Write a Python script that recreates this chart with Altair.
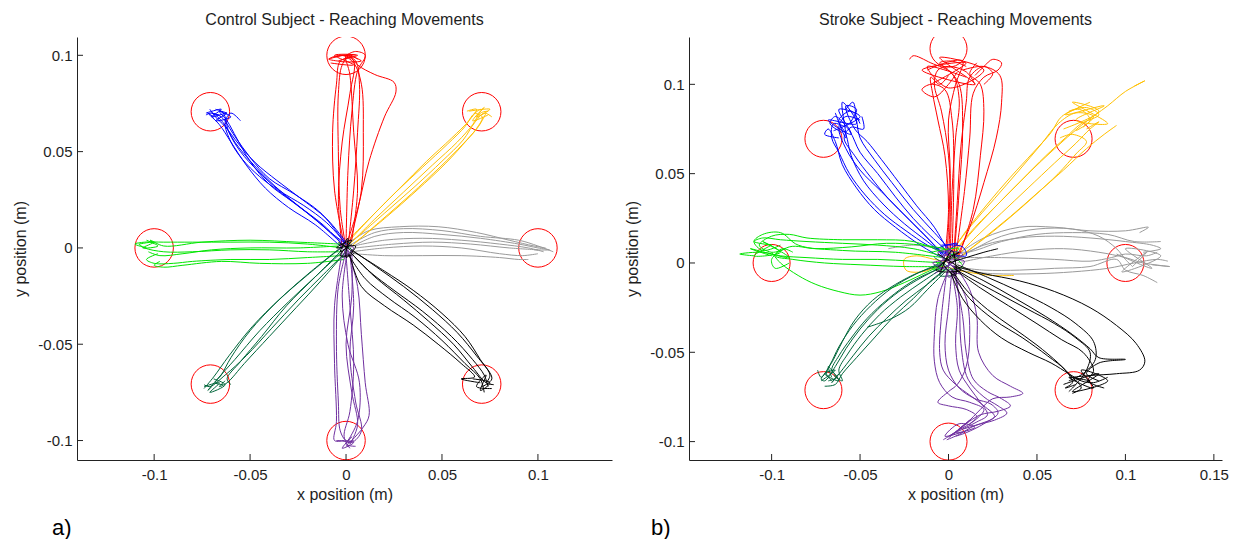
import altair as alt
import pandas as pd

# ---------------- direction groups & colours ----------------
DIRS = ["right", "upright", "up", "upleft", "left", "downleft", "down", "downright"]
DIR_COLORS = ["#9a9a9a", "#ffc000", "#ff0000", "#0000ff", "#00e600", "#00663a", "#7030a0", "#000000"]

# ---------------- panel texts ----------------
TITLES = ["Control Subject - Reaching Movements", "Stroke Subject - Reaching Movements"]
TAGS = ["a)", "b)"]
X_TITLE = "x position (m)"
Y_TITLE = "y position (m)"

# ---------------- targets ----------------
CTRL_TARGETS_X = [0.0, 0.0707, 0.1, 0.0707, 0.0, -0.0707, -0.1, -0.0707]
CTRL_TARGETS_Y = [0.1, 0.0707, 0.0, -0.0707, -0.1, -0.0707, 0.0, 0.0707]
STRK_TARGETS_X = [0.0, 0.0707, 0.1, 0.0707, 0.0, -0.0707, -0.1, -0.0707]
STRK_TARGETS_Y = [0.12, 0.0695, 0.0, -0.0712, -0.1, -0.0712, 0.0, 0.0695]

# ---------------- axis ticks ----------------
CTRL_XTICKS = [-0.1, -0.05, 0, 0.05, 0.1]
CTRL_YTICKS = [-0.1, -0.05, 0, 0.05, 0.1]
STRK_XTICKS = [-0.1, -0.05, 0, 0.05, 0.1, 0.15]
STRK_YTICKS = [-0.1, -0.05, 0, 0.05, 0.1]

# ---------------- control subject trajectories (m) ----------------
CTRL_UP = [
    [(0, 0), (-0.003, 0.02), (-0.004, 0.05), (-0.004, 0.08), (-0.002, 0.095), (0.002, 0.1), (0.006, 0.098)],
    [(0.001, 0.0), (0.004, 0.03), (0.006, 0.06), (0.007, 0.085), (0.005, 0.097), (0.0, 0.1), (-0.006, 0.099)],
    [(-0.001, 0.002), (-0.006, 0.03), (-0.007, 0.06), (-0.005, 0.085), (-0.003, 0.097), (0.003, 0.099)],
    [(0.002, 0.003), (0.008, 0.03), (0.009, 0.06), (0.008, 0.085), (0.004, 0.096), (-0.002, 0.1), (-0.009, 0.098), (-0.004, 0.097)],
    [(0.003, 0.004), (0.006, 0.03), (0.004, 0.06), (0.002, 0.09), (0.0, 0.1), (0.005, 0.1)],
    [(0, 0.001), (0.001, 0.04), (0.003, 0.07), (0.006, 0.092), (0.01, 0.1), (0.005, 0.102), (0, 0.1)],
    [(0.001, 0.004), (0.006, 0.02), (0.012, 0.045), (0.02, 0.068), (0.026, 0.081), (0.025, 0.086), (0.015, 0.09), (0.006, 0.095), (0.002, 0.1)],
    [(-0.002, 0.0), (-0.004, 0.025), (-0.002, 0.055), (0.002, 0.08), (0.004, 0.097), (-0.001, 0.1)],
    [(-0.009, 0.098), (0.0, 0.1), (0.008, 0.097), (-0.004, 0.097), (0.006, 0.1), (-0.006, 0.1), (0.004, 0.095), (-0.008, 0.096)],
]
CTRL_UPLEFT = [
    [(0, 0), (-0.012, 0.012), (-0.025, 0.022), (-0.037, 0.032), (-0.048, 0.043), (-0.058, 0.055), (-0.064, 0.065), (-0.07, 0.07), (-0.073, 0.069)],
    [(-0.002, 0.002), (-0.015, 0.014), (-0.028, 0.024), (-0.04, 0.033), (-0.05, 0.045), (-0.057, 0.057), (-0.062, 0.066), (-0.066, 0.071), (-0.062, 0.07)],
    [(0.001, 0.001), (-0.01, 0.013), (-0.022, 0.022), (-0.035, 0.03), (-0.046, 0.04), (-0.055, 0.05), (-0.061, 0.06), (-0.064, 0.07), (-0.068, 0.072)],
    [(-0.001, 0.003), (-0.013, 0.018), (-0.027, 0.028), (-0.04, 0.036), (-0.05, 0.047), (-0.058, 0.058), (-0.065, 0.068), (-0.07, 0.07), (-0.066, 0.069)],
    [(0.0, 0.002), (-0.008, 0.008), (-0.02, 0.018), (-0.033, 0.028), (-0.045, 0.037), (-0.054, 0.046), (-0.06, 0.055), (-0.063, 0.065), (-0.06, 0.07), (-0.055, 0.066)],
    [(-0.002, 0.0), (-0.016, 0.012), (-0.03, 0.021), (-0.042, 0.031), (-0.052, 0.043), (-0.06, 0.055), (-0.066, 0.064), (-0.072, 0.07), (-0.069, 0.068)],
    [(0, 0.003), (-0.01, 0.015), (-0.024, 0.026), (-0.036, 0.035), (-0.047, 0.044), (-0.056, 0.054), (-0.063, 0.063), (-0.068, 0.068), (-0.071, 0.072)],
    [(-0.073, 0.07), (-0.065, 0.072), (-0.07, 0.068), (-0.062, 0.07), (-0.068, 0.066), (-0.06, 0.068), (-0.066, 0.071)],
]
CTRL_UPRIGHT = [
    [(0.002, 0.002), (0.015, 0.015), (0.03, 0.029), (0.045, 0.043), (0.058, 0.055), (0.066, 0.064), (0.07, 0.07), (0.074, 0.071)],
    [(0.003, 0.001), (0.018, 0.014), (0.034, 0.028), (0.049, 0.042), (0.061, 0.054), (0.068, 0.062), (0.071, 0.068), (0.067, 0.07)],
    [(0.001, 0.003), (0.014, 0.017), (0.028, 0.031), (0.042, 0.045), (0.055, 0.057), (0.064, 0.066), (0.068, 0.072), (0.063, 0.071)],
    [(0.004, 0.004), (0.02, 0.018), (0.036, 0.032), (0.05, 0.045), (0.061, 0.056), (0.067, 0.065), (0.072, 0.07), (0.076, 0.068)],
    [(0.002, 0.005), (0.013, 0.016), (0.026, 0.029), (0.04, 0.042), (0.053, 0.054), (0.062, 0.063), (0.066, 0.069), (0.07, 0.072)],
    [(0.005, 0.003), (0.021, 0.016), (0.037, 0.03), (0.052, 0.044), (0.063, 0.056), (0.069, 0.063), (0.073, 0.07)],
    [(0.064, 0.071), (0.075, 0.072), (0.068, 0.068), (0.072, 0.073), (0.066, 0.066), (0.074, 0.069)],
]
CTRL_RIGHT = [
    [(0.003, 0.002), (0.015, 0.008), (0.03, 0.01), (0.05, 0.009), (0.07, 0.006), (0.09, 0.004), (0.1, 0.001), (0.108, -0.002)],
    [(0.002, 0.0), (0.015, 0.006), (0.03, 0.008), (0.05, 0.007), (0.07, 0.005), (0.09, 0.002), (0.1, 0.0), (0.106, -0.001), (0.098, -0.001)],
    [(0.004, 0.001), (0.02, 0.004), (0.04, 0.005), (0.06, 0.004), (0.08, 0.002), (0.095, 0.0), (0.103, -0.002)],
    [(0.003, -0.002), (0.02, 0.0), (0.04, 0.001), (0.06, 0.0), (0.08, -0.003), (0.092, -0.004), (0.1, -0.003)],
    [(0.004, -0.003), (0.02, -0.004), (0.04, -0.004), (0.06, -0.004), (0.08, -0.005), (0.09, -0.006), (0.095, -0.006)],
    [(0.002, 0.003), (0.012, 0.009), (0.028, 0.011), (0.048, 0.011), (0.068, 0.008), (0.085, 0.004), (0.098, 0.001), (0.104, 0.0)],
    [(0.005, 0.0), (0.025, 0.002), (0.045, 0.003), (0.065, 0.002), (0.085, 0.0), (0.1, -0.001)],
]
CTRL_DOWNRIGHT = [
    [(0.002, -0.002), (0.012, -0.012), (0.025, -0.022), (0.04, -0.033), (0.055, -0.046), (0.066, -0.058), (0.072, -0.066), (0.074, -0.072)],
    [(0.003, -0.001), (0.016, -0.01), (0.03, -0.02), (0.045, -0.032), (0.058, -0.044), (0.068, -0.056), (0.075, -0.066), (0.073, -0.07)],
    [(0.001, -0.003), (0.01, -0.016), (0.022, -0.026), (0.036, -0.036), (0.05, -0.048), (0.062, -0.06), (0.07, -0.068), (0.072, -0.075)],
    [(0.004, -0.002), (0.02, -0.012), (0.035, -0.022), (0.05, -0.034), (0.062, -0.046), (0.07, -0.058), (0.076, -0.068), (0.071, -0.072)],
    [(0.002, -0.004), (0.008, -0.02), (0.02, -0.03), (0.035, -0.04), (0.048, -0.05), (0.06, -0.06), (0.067, -0.067), (0.06, -0.068), (0.07, -0.07)],
    [(0.003, -0.003), (0.015, -0.015), (0.03, -0.027), (0.043, -0.038), (0.056, -0.05), (0.066, -0.062), (0.073, -0.07), (0.077, -0.071)],
    [(0.066, -0.068), (0.075, -0.07), (0.07, -0.074), (0.073, -0.066), (0.068, -0.072), (0.076, -0.073)],
    [(-0.004, 0.003), (0.004, -0.003), (-0.003, -0.004), (0.003, 0.004), (-0.005, 0.0), (0.005, 0.001), (0.0, -0.005), (0.001, 0.005), (-0.003, -0.002), (0.003, 0.002)],
]
CTRL_DOWN = [
    [(0, -0.002), (-0.004, -0.02), (-0.005, -0.05), (-0.004, -0.08), (-0.003, -0.095), (0.0, -0.1), (0.004, -0.1)],
    [(0.002, -0.003), (0.004, -0.03), (0.002, -0.055), (0.005, -0.08), (0.008, -0.095), (0.003, -0.101), (-0.002, -0.1)],
    [(0.001, -0.001), (0.006, -0.02), (0.008, -0.045), (0.01, -0.07), (0.012, -0.087), (0.009, -0.093), (0.003, -0.1), (0.0, -0.103)],
    [(-0.002, -0.002), (-0.006, -0.03), (-0.006, -0.06), (-0.005, -0.09), (-0.006, -0.1), (-0.001, -0.1)],
    [(0.003, -0.001), (0.003, -0.025), (0.0, -0.05), (0.003, -0.075), (0.006, -0.092), (0.002, -0.102)],
    [(0.0, -0.004), (0.002, -0.03), (0.004, -0.06), (0.002, -0.085), (-0.001, -0.098), (0.002, -0.104)],
    [(0.001, 0.0), (-0.002, -0.025), (0.001, -0.05), (0.007, -0.07), (0.006, -0.09), (0.001, -0.1)],
    [(-0.005, -0.1), (0.004, -0.101), (-0.002, -0.104), (0.003, -0.098), (0.0, -0.102), (0.005, -0.103)],
    [(0.002, -0.005), (-0.003, 0.002), (0.004, 0.0), (-0.001, -0.004), (0.001, 0.004), (-0.004, -0.001)],
]
CTRL_DOWNLEFT = [
    [(-0.002, -0.002), (-0.015, -0.014), (-0.03, -0.028), (-0.045, -0.043), (-0.058, -0.058), (-0.067, -0.068), (-0.072, -0.074), (-0.07, -0.072)],
    [(-0.003, 0.0), (-0.018, -0.012), (-0.034, -0.026), (-0.049, -0.041), (-0.061, -0.056), (-0.069, -0.067), (-0.074, -0.073)],
    [(-0.001, -0.003), (-0.013, -0.017), (-0.026, -0.031), (-0.04, -0.046), (-0.053, -0.06), (-0.062, -0.07), (-0.066, -0.072), (-0.063, -0.069)],
    [(-0.004, -0.001), (-0.02, -0.014), (-0.036, -0.028), (-0.05, -0.043), (-0.06, -0.057), (-0.065, -0.066), (-0.068, -0.07), (-0.064, -0.071)],
    [(-0.002, -0.001), (-0.016, -0.015), (-0.031, -0.03), (-0.044, -0.046), (-0.055, -0.059), (-0.062, -0.068), (-0.06, -0.071)],
    [(0.0, -0.002), (-0.012, -0.014), (-0.025, -0.027), (-0.039, -0.042), (-0.052, -0.056), (-0.063, -0.066), (-0.071, -0.072), (-0.074, -0.071)],
    [(-0.074, -0.072), (-0.066, -0.07), (-0.071, -0.075), (-0.063, -0.071), (-0.069, -0.068)],
    [(-0.005, -0.002), (0.002, 0.003), (-0.002, -0.005), (0.003, -0.001), (-0.004, 0.002)],
]
CTRL_LEFT = [
    [(-0.002, 0.0), (-0.02, 0.002), (-0.04, 0.003), (-0.06, 0.003), (-0.08, 0.003), (-0.095, 0.003), (-0.105, 0.003), (-0.11, 0.002), (-0.104, 0.0)],
    [(-0.003, -0.002), (-0.02, -0.002), (-0.04, -0.001), (-0.06, -0.001), (-0.08, -0.002), (-0.095, -0.002), (-0.105, 0.0), (-0.108, 0.002)],
    [(-0.002, -0.004), (-0.02, -0.005), (-0.04, -0.006), (-0.06, -0.006), (-0.08, -0.007), (-0.09, -0.008), (-0.1, -0.008), (-0.104, -0.006), (-0.098, -0.003)],
    [(-0.004, 0.001), (-0.025, 0.0), (-0.05, 0.0), (-0.07, -0.001), (-0.085, -0.003), (-0.097, -0.004), (-0.103, -0.002)],
    [(-0.001, -0.006), (-0.02, -0.008), (-0.045, -0.008), (-0.065, -0.007), (-0.085, -0.009), (-0.095, -0.01), (-0.1, -0.009), (-0.097, -0.007)],
    [(-0.003, 0.002), (-0.025, 0.003), (-0.05, 0.004), (-0.075, 0.003), (-0.095, 0.001), (-0.102, 0.004), (-0.1, 0.002)],
    [(-0.108, 0.002), (-0.1, 0.003), (-0.106, 0.0), (-0.098, 0.001), (-0.104, 0.004)],
]

# ---------------- stroke subject trajectories (m) ----------------
STRK_UP = [
    [(0.0, 0.003), (0.001, 0.03), (0.0, 0.06), (-0.004, 0.085), (-0.008, 0.1), (-0.006, 0.108), (0.0, 0.11), (0.01, 0.107), (0.015, 0.1)],
    [(0.003, 0.005), (0.005, 0.035), (0.007, 0.065), (0.01, 0.09), (0.012, 0.104), (0.02, 0.11), (0.025, 0.106), (0.02, 0.1)],
    [(0.001, 0.002), (0.002, 0.04), (0.004, 0.07), (0.006, 0.092), (0.002, 0.106), (-0.01, 0.112), (-0.02, 0.116), (-0.022, 0.114)],
    [(0.005, 0.004), (0.012, 0.02), (0.02, 0.045), (0.027, 0.07), (0.03, 0.09), (0.029, 0.105), (0.02, 0.11), (0.008, 0.108)],
    [(-0.002, 0.004), (0.0, 0.03), (-0.002, 0.06), (-0.006, 0.08), (-0.009, 0.095), (-0.01, 0.104), (-0.005, 0.1), (0.0, 0.105)],
    [(0.004, 0.003), (0.009, 0.04), (0.012, 0.07), (0.014, 0.095), (0.02, 0.104), (0.028, 0.108), (0.03, 0.112), (0.025, 0.114), (0.02, 0.11), (0.015, 0.105)],
    [(0.002, 0.006), (0.003, 0.05), (0.002, 0.08), (-0.002, 0.097), (-0.01, 0.1), (-0.015, 0.097), (-0.008, 0.093), (0.0, 0.1), (0.005, 0.107)],
    [(0.003, 0.002), (0.006, 0.04), (0.008, 0.075), (0.006, 0.1), (0.0, 0.108), (-0.005, 0.112), (0.002, 0.113), (0.01, 0.11)],
    [(-0.001, 0.001), (0.0, 0.02), (0.001, 0.05), (0.0, 0.08), (0.004, 0.1), (0.008, 0.113), (-0.002, 0.112), (-0.012, 0.108)],
    [(0.006, 0.004), (0.014, 0.03), (0.018, 0.06), (0.02, 0.085), (0.018, 0.1), (0.012, 0.106), (0.016, 0.112)],
    [(-0.01, 0.1), (0.01, 0.112), (-0.015, 0.108), (0.015, 0.1), (-0.005, 0.115), (0.02, 0.108), (0.0, 0.098), (-0.012, 0.11), (0.01, 0.104)],
]
STRK_UPLEFT = [
    [(-0.002, 0.004), (-0.012, 0.012), (-0.025, 0.022), (-0.037, 0.033), (-0.048, 0.046), (-0.055, 0.06), (-0.058, 0.072), (-0.062, 0.08), (-0.055, 0.085), (-0.05, 0.078)],
    [(0.0, 0.006), (-0.01, 0.015), (-0.02, 0.025), (-0.03, 0.037), (-0.04, 0.05), (-0.05, 0.062), (-0.056, 0.074), (-0.064, 0.082), (-0.067, 0.078), (-0.06, 0.073)],
    [(-0.004, 0.003), (-0.016, 0.01), (-0.03, 0.02), (-0.042, 0.03), (-0.052, 0.042), (-0.06, 0.055), (-0.064, 0.068), (-0.068, 0.075), (-0.07, 0.072), (-0.062, 0.07)],
    [(-0.001, 0.008), (-0.008, 0.02), (-0.018, 0.032), (-0.028, 0.045), (-0.038, 0.058), (-0.046, 0.068), (-0.053, 0.075), (-0.058, 0.088), (-0.052, 0.086), (-0.056, 0.078)],
    [(-0.003, 0.005), (-0.014, 0.016), (-0.026, 0.028), (-0.038, 0.04), (-0.05, 0.052), (-0.058, 0.064), (-0.062, 0.076), (-0.058, 0.082), (-0.05, 0.08)],
    [(0.001, 0.004), (-0.012, 0.01), (-0.024, 0.018), (-0.036, 0.027), (-0.047, 0.038), (-0.056, 0.05), (-0.062, 0.062), (-0.066, 0.07), (-0.065, 0.078), (-0.058, 0.076)],
    [(-0.002, 0.002), (-0.01, 0.012), (-0.022, 0.024), (-0.034, 0.036), (-0.044, 0.048), (-0.053, 0.06), (-0.059, 0.07), (-0.055, 0.076), (-0.048, 0.075), (-0.049, 0.082)],
    [(0.002, 0.006), (-0.008, 0.017), (-0.02, 0.03), (-0.032, 0.045), (-0.042, 0.058), (-0.05, 0.07), (-0.052, 0.08), (-0.054, 0.09), (-0.058, 0.086)],
    [(-0.065, 0.074), (-0.05, 0.082), (-0.062, 0.086), (-0.055, 0.072), (-0.068, 0.08), (-0.052, 0.078), (-0.06, 0.09), (-0.058, 0.07), (-0.064, 0.084)],
    [(-0.004, 0.01), (0.008, 0.009), (0.01, 0.004), (-0.006, 0.008), (0.005, 0.011), (-0.002, 0.006)],
]
STRK_UPRIGHT = [
    [(0.002, 0.004), (0.012, 0.016), (0.025, 0.03), (0.04, 0.045), (0.055, 0.06), (0.066, 0.07), (0.075, 0.078), (0.085, 0.083), (0.078, 0.087), (0.068, 0.085)],
    [(0.004, 0.003), (0.016, 0.015), (0.03, 0.028), (0.045, 0.042), (0.06, 0.056), (0.072, 0.067), (0.08, 0.075), (0.085, 0.079), (0.078, 0.075)],
    [(0.003, 0.006), (0.015, 0.02), (0.03, 0.035), (0.045, 0.05), (0.06, 0.064), (0.075, 0.077), (0.09, 0.088), (0.1, 0.096), (0.111, 0.102), (0.105, 0.099)],
    [(0.001, 0.005), (0.01, 0.018), (0.022, 0.033), (0.035, 0.048), (0.048, 0.062), (0.058, 0.073), (0.064, 0.082), (0.074, 0.086), (0.08, 0.08), (0.072, 0.074)],
    [(0.005, 0.002), (0.02, 0.014), (0.035, 0.026), (0.05, 0.039), (0.065, 0.052), (0.078, 0.064), (0.088, 0.072), (0.095, 0.077)],
    [(0.003, 0.001), (0.018, 0.012), (0.033, 0.024), (0.048, 0.037), (0.062, 0.05), (0.072, 0.061), (0.078, 0.068), (0.07, 0.072), (0.063, 0.07)],
    [(0.0, 0.004), (0.012, 0.02), (0.026, 0.036), (0.04, 0.052), (0.052, 0.066), (0.062, 0.078), (0.072, 0.084), (0.082, 0.082), (0.076, 0.076)],
    [(0.002, 0.0), (-0.008, 0.002), (-0.018, 0.004), (-0.025, 0.002), (-0.024, -0.004), (-0.015, -0.005), (-0.005, -0.002), (0.01, -0.005), (0.025, -0.007), (0.037, -0.007)],
    [(0.065, 0.075), (0.085, 0.085), (0.07, 0.09), (0.09, 0.078), (0.072, 0.08), (0.088, 0.088), (0.066, 0.083), (0.08, 0.09)],
]
STRK_RIGHT = [
    [(0.004, 0.004), (0.02, 0.014), (0.04, 0.02), (0.06, 0.02), (0.08, 0.018), (0.1, 0.018), (0.113, 0.02), (0.108, 0.017)],
    [(0.003, 0.002), (0.02, 0.01), (0.04, 0.014), (0.06, 0.015), (0.08, 0.014), (0.1, 0.012), (0.115, 0.01), (0.12, 0.008), (0.11, 0.006)],
    [(0.005, 0.0), (0.025, 0.004), (0.045, 0.007), (0.065, 0.008), (0.085, 0.006), (0.1, 0.003), (0.11, 0.0), (0.125, -0.002), (0.115, -0.001)],
    [(0.002, -0.002), (0.02, -0.004), (0.04, -0.004), (0.06, -0.003), (0.08, -0.002), (0.095, 0.002), (0.1, -0.004), (0.11, -0.007), (0.118, -0.011)],
    [(0.004, -0.004), (0.025, -0.006), (0.05, -0.006), (0.07, -0.005), (0.09, -0.003), (0.105, 0.0), (0.118, 0.002), (0.124, 0.001)],
    [(-0.034, 0.008), (-0.02, 0.01), (-0.005, 0.008), (0.01, 0.006), (0.03, 0.012), (0.05, 0.016), (0.07, 0.017), (0.09, 0.016), (0.105, 0.012), (0.12, 0.012)],
    [(0.003, 0.001), (0.015, 0.008), (0.03, 0.015), (0.05, 0.019), (0.07, 0.019), (0.085, 0.015), (0.095, 0.008), (0.1, 0.002), (0.104, -0.002)],
    [(0.002, 0.003), (0.03, 0.003), (0.06, 0.002), (0.08, 0.001), (0.092, 0.003), (0.1, 0.005), (0.112, 0.004), (0.118, 0.006)],
    [(0.095, 0.005), (0.115, -0.003), (0.1, 0.008), (0.12, 0.004), (0.098, -0.005), (0.112, 0.006), (0.104, -0.002)],
]
STRK_DOWNRIGHT = [
    [(0.003, -0.003), (0.015, -0.01), (0.03, -0.018), (0.045, -0.026), (0.06, -0.034), (0.072, -0.042), (0.08, -0.05), (0.078, -0.06), (0.072, -0.068), (0.068, -0.072)],
    [(0.004, -0.002), (0.02, -0.006), (0.04, -0.01), (0.06, -0.016), (0.08, -0.025), (0.095, -0.035), (0.106, -0.045), (0.111, -0.055), (0.108, -0.06), (0.095, -0.062), (0.08, -0.063), (0.07, -0.064)],
    [(0.002, -0.004), (0.01, -0.015), (0.022, -0.026), (0.036, -0.036), (0.05, -0.046), (0.062, -0.056), (0.07, -0.064), (0.075, -0.07), (0.07, -0.073)],
    [(0.003, -0.002), (0.02, -0.01), (0.038, -0.02), (0.055, -0.03), (0.07, -0.04), (0.08, -0.048), (0.085, -0.053), (0.1, -0.054), (0.085, -0.056), (0.078, -0.062), (0.085, -0.066)],
    [(0.001, -0.005), (0.008, -0.02), (0.018, -0.032), (0.03, -0.042), (0.045, -0.05), (0.058, -0.056), (0.068, -0.062), (0.075, -0.066), (0.082, -0.067), (0.09, -0.064)],
    [(0.005, -0.001), (0.022, -0.008), (0.04, -0.016), (0.058, -0.025), (0.072, -0.034), (0.082, -0.044), (0.083, -0.054), (0.076, -0.062), (0.068, -0.066)],
    [(0.002, -0.006), (0.012, -0.02), (0.026, -0.032), (0.042, -0.042), (0.056, -0.052), (0.066, -0.06), (0.07, -0.067), (0.066, -0.07), (0.072, -0.068)],
    [(0.0, 0.0), (0.01, 0.003), (0.02, 0.006), (0.028, 0.008)],
    [(0.004, -0.004), (0.018, -0.014), (0.034, -0.024), (0.05, -0.034), (0.064, -0.043), (0.076, -0.05), (0.082, -0.06), (0.079, -0.066), (0.088, -0.07)],
    [(-0.006, 0.005), (0.007, -0.004), (-0.007, -0.004), (0.006, 0.006), (-0.003, 0.0), (0.004, -0.007), (0.002, 0.007), (-0.005, -0.006)],
    [(0.065, -0.068), (0.085, -0.062), (0.07, -0.072), (0.09, -0.066), (0.075, -0.06), (0.082, -0.07), (0.068, -0.064), (0.08, -0.066)],
]
STRK_DOWN = [
    [(0.0, -0.004), (-0.006, -0.02), (-0.008, -0.04), (-0.008, -0.055), (-0.005, -0.067), (0.002, -0.075), (0.012, -0.078), (0.02, -0.082), (0.015, -0.088), (0.005, -0.094), (-0.003, -0.099)],
    [(0.002, -0.003), (0.0, -0.025), (-0.002, -0.045), (0.0, -0.06), (0.006, -0.07), (0.015, -0.076), (0.024, -0.079), (0.028, -0.084), (0.02, -0.09), (0.01, -0.095), (0.004, -0.097)],
    [(0.003, -0.004), (0.008, -0.03), (0.01, -0.05), (0.014, -0.065), (0.022, -0.072), (0.03, -0.076), (0.035, -0.08), (0.028, -0.083), (0.018, -0.085), (0.01, -0.09), (0.005, -0.094)],
    [(0.004, -0.002), (0.012, -0.015), (0.016, -0.03), (0.017, -0.05), (0.025, -0.063), (0.035, -0.069), (0.042, -0.073), (0.035, -0.075), (0.025, -0.076), (0.018, -0.082), (0.01, -0.09), (0.002, -0.096)],
    [(-0.001, -0.005), (-0.004, -0.03), (-0.005, -0.05), (-0.003, -0.06), (0.004, -0.068), (0.012, -0.074), (0.02, -0.08), (0.026, -0.086), (0.018, -0.09), (0.008, -0.093)],
    [(0.002, -0.006), (0.005, -0.025), (0.004, -0.045), (0.006, -0.06), (0.012, -0.07), (0.018, -0.078), (0.022, -0.085), (0.016, -0.089), (0.01, -0.092), (0.0, -0.097)],
    [(0.001, -0.003), (0.01, -0.02), (0.012, -0.04), (0.01, -0.058), (0.005, -0.068), (0.0, -0.072), (-0.006, -0.078), (0.0, -0.08), (0.01, -0.082), (0.016, -0.086), (0.012, -0.09)],
    [(0.003, -0.001), (0.006, -0.02), (0.007, -0.045), (0.011, -0.065), (0.02, -0.075), (0.028, -0.08), (0.033, -0.084), (0.026, -0.088), (0.015, -0.091), (0.006, -0.096), (-0.001, -0.099)],
    [(-0.008, -0.006), (0.008, 0.005), (-0.006, 0.006), (0.007, -0.006), (-0.009, 0.0), (0.009, 0.001), (0.0, -0.008), (0.001, 0.008), (-0.005, -0.003), (0.006, 0.003), (-0.004, 0.004), (0.005, -0.004), (0.0, 0.0)],
    [(0.0, -0.098), (0.012, -0.088), (0.004, -0.095), (0.015, -0.092), (0.006, -0.09), (-0.002, -0.097), (0.01, -0.094)],
]
STRK_DOWNLEFT = [
    [(-0.003, -0.002), (-0.015, -0.008), (-0.028, -0.016), (-0.04, -0.026), (-0.05, -0.037), (-0.058, -0.048), (-0.064, -0.058), (-0.07, -0.066), (-0.072, -0.065), (-0.068, -0.06)],
    [(-0.002, -0.004), (-0.012, -0.012), (-0.024, -0.021), (-0.035, -0.031), (-0.045, -0.041), (-0.054, -0.052), (-0.061, -0.061), (-0.066, -0.067), (-0.062, -0.062)],
    [(-0.004, 0.0), (-0.018, -0.006), (-0.032, -0.014), (-0.044, -0.024), (-0.054, -0.035), (-0.062, -0.047), (-0.067, -0.057), (-0.072, -0.064), (-0.074, -0.06)],
    [(-0.001, -0.003), (-0.01, -0.01), (-0.02, -0.02), (-0.031, -0.03), (-0.042, -0.042), (-0.052, -0.053), (-0.06, -0.062), (-0.064, -0.068), (-0.07, -0.069)],
    [(-0.005, -0.003), (-0.02, -0.01), (-0.034, -0.02), (-0.046, -0.031), (-0.055, -0.042), (-0.062, -0.052), (-0.066, -0.06), (-0.063, -0.064), (-0.068, -0.066)],
    [(-0.002, -0.005), (-0.012, -0.015), (-0.022, -0.025), (-0.032, -0.031), (-0.046, -0.036)],
    [(-0.003, -0.001), (-0.016, -0.005), (-0.03, -0.012), (-0.043, -0.021), (-0.053, -0.032), (-0.06, -0.044), (-0.065, -0.054), (-0.069, -0.062), (-0.066, -0.066)],
    [(-0.002, -0.002), (-0.014, -0.01), (-0.027, -0.019), (-0.039, -0.029), (-0.049, -0.04), (-0.057, -0.051), (-0.062, -0.06), (-0.06, -0.066), (-0.065, -0.063)],
    [(-0.072, -0.066), (-0.064, -0.06), (-0.07, -0.062), (-0.062, -0.066), (-0.068, -0.058), (-0.066, -0.064)],
    [(-0.008, 0.003), (0.004, -0.006), (-0.005, -0.007), (0.006, 0.004), (-0.007, -0.002)],
]
STRK_LEFT = [
    [(-0.004, 0.004), (-0.02, 0.008), (-0.04, 0.01), (-0.06, 0.011), (-0.08, 0.012), (-0.095, 0.013), (-0.105, 0.014), (-0.11, 0.012), (-0.1, 0.01)],
    [(-0.003, 0.006), (-0.02, 0.012), (-0.04, 0.013), (-0.06, 0.013), (-0.08, 0.014), (-0.09, 0.016), (-0.1, 0.015), (-0.107, 0.01), (-0.1, 0.006), (-0.092, 0.008)],
    [(-0.002, 0.0), (-0.02, 0.001), (-0.04, 0.002), (-0.06, 0.002), (-0.08, 0.003), (-0.095, 0.004), (-0.105, 0.006), (-0.118, 0.005), (-0.11, 0.004)],
    [(-0.004, -0.002), (-0.025, -0.002), (-0.05, -0.001), (-0.07, 0.0), (-0.088, 0.002), (-0.098, 0.004), (-0.094, 0.008), (-0.088, 0.006)],
    [(-0.1, 0.006), (-0.095, 0.0), (-0.085, -0.007), (-0.075, -0.012), (-0.062, -0.016), (-0.05, -0.018), (-0.038, -0.016), (-0.025, -0.011), (-0.012, -0.005), (-0.003, -0.001)],
    [(-0.002, 0.008), (-0.015, 0.01), (-0.035, 0.011), (-0.055, 0.009), (-0.075, 0.008), (-0.09, 0.009), (-0.1, 0.002), (-0.098, -0.003), (-0.09, 0.0)],
    [(-0.003, 0.003), (-0.03, 0.006), (-0.06, 0.007), (-0.085, 0.01), (-0.095, 0.017), (-0.105, 0.016), (-0.11, 0.012), (-0.105, 0.007), (-0.095, 0.01)],
    [(-0.1, 0.01), (-0.11, 0.004), (-0.095, 0.006), (-0.105, 0.012), (-0.09, 0.003), (-0.112, 0.008), (-0.1, 0.004)],
    [(-0.01, 0.006), (0.006, 0.008), (-0.009, -0.003), (0.008, -0.002), (-0.004, 0.009)],
]

CTRL_GROUPS = {"right": CTRL_RIGHT, "upright": CTRL_UPRIGHT, "up": CTRL_UP, "upleft": CTRL_UPLEFT,
               "left": CTRL_LEFT, "downleft": CTRL_DOWNLEFT, "down": CTRL_DOWN, "downright": CTRL_DOWNRIGHT}
STRK_GROUPS = {"right": STRK_RIGHT, "upright": STRK_UPRIGHT, "up": STRK_UP, "upleft": STRK_UPLEFT,
               "left": STRK_LEFT, "downleft": STRK_DOWNLEFT, "down": STRK_DOWN, "downright": STRK_DOWNRIGHT}


def lines_table(groups):
    rows = []
    for gi, d in enumerate(DIRS):
        for ti, traj in enumerate(groups[d]):
            tid = f"{gi:02d}_{d}_{ti:02d}"
            for pi, (x, y) in enumerate(traj):
                rows.append({"dir": d, "traj": tid, "i": pi, "x": x, "y": y})
    return pd.DataFrame(rows)


FONT = "Liberation Sans"
TXT = "#1e1e1e"
color_scale = alt.Scale(domain=DIRS, range=DIR_COLORS)


def panel(groups, tx, ty, xdom, ydom, xticks, yticks, W, H, title, tag, tagx, csize):
    xs = alt.Scale(domain=xdom, nice=False, zero=False)
    ys = alt.Scale(domain=ydom, nice=False, zero=False)
    xaxis = alt.Axis(values=xticks, title=X_TITLE, labelExpr="'' + datum.value",
                     titleY=39, titleBaseline="alphabetic", labelPadding=7)
    yaxis = alt.Axis(values=yticks, title=Y_TITLE, labelExpr="'' + datum.value",
                     titleX=-52, titleY=H / 2, titleAngle=270, titleBaseline="alphabetic",
                     titleAlign="center", labelPadding=5)

    tdf = pd.DataFrame({"x": tx, "y": ty})
    circles = alt.Chart(tdf).mark_point(shape="circle", filled=False, size=csize, color="#ff0000",
                                        strokeWidth=1, opacity=1, clip=True).encode(
        x=alt.X("x:Q", scale=xs, axis=xaxis), y=alt.Y("y:Q", scale=ys, axis=yaxis))

    lines = alt.Chart(lines_table(groups)).mark_line(
        strokeWidth=1, clip=True, interpolate="catmull-rom").encode(
        x=alt.X("x:Q", scale=xs), y=alt.Y("y:Q", scale=ys),
        color=alt.Color("dir:N", scale=color_scale, legend=None),
        detail="traj:N", order="i:Q")

    xt = alt.Chart(pd.DataFrame({"x": xticks})).mark_rule(color="#222", strokeWidth=1).encode(
        x=alt.X("x:Q", scale=xs), y=alt.value(H), y2=alt.value(H - 6))
    yt = alt.Chart(pd.DataFrame({"y": yticks})).mark_rule(color="#222", strokeWidth=1).encode(
        y=alt.Y("y:Q", scale=ys), x=alt.value(0), x2=alt.value(6))

    ttl = alt.Chart(pd.DataFrame({"t": [title]})).mark_text(
        font=FONT, fontSize=16, color=TXT, align="center", baseline="alphabetic").encode(
        text="t:N", x=alt.value(W / 2), y=alt.value(-12))

    lab = alt.Chart(pd.DataFrame({"t": [tag]})).mark_text(
        font=FONT, fontSize=22, color="#000", align="left", baseline="alphabetic").encode(
        text="t:N", x=alt.value(tagx), y=alt.value(H + 75))

    return alt.layer(circles, lines, xt, yt, ttl, lab).properties(width=W, height=H)


left = panel(CTRL_GROUPS, CTRL_TARGETS_X, CTRL_TARGETS_Y, [-0.1402, 0.1386], [-0.1101, 0.1095],
             CTRL_XTICKS, CTRL_YTICKS, 535, 423, TITLES[0], TAGS[0], -25, 1480)
right = panel(STRK_GROUPS, STRK_TARGETS_X, STRK_TARGETS_Y, [-0.1467, 0.1546], [-0.1103, 0.1265],
              STRK_XTICKS, STRK_YTICKS, 533, 423, TITLES[1], TAGS[1], -38, 1370)

chart = alt.hconcat(left, right, spacing=77, bounds="flush").properties(
    padding={"left": 4, "top": 4, "right": 0, "bottom": 0}
).configure_view(stroke=None).configure_axis(
    grid=False, ticks=False, tickSize=0, domainColor="#222", domainWidth=1,
    labelFont=FONT, labelFontSize=15, labelColor=TXT,
    titleFont=FONT, titleFontSize=16, titleFontWeight="normal", titleColor=TXT,
)

chart.save("out.html", embed_options={"renderer": "svg", "actions": False})
